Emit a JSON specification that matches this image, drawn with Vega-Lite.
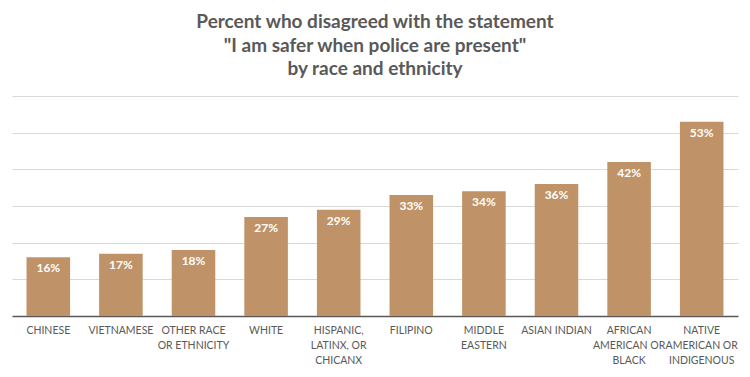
{
  "$schema": "https://vega.github.io/schema/vega-lite/v6.json",
  "width": 726,
  "height": 220,
  "padding": {"left": 12, "right": 12, "top": 13, "bottom": 2},
  "background": "white",
  "title": {
    "text": ["Percent who disagreed with the statement", "\"I am safer when police are present\"", "by race and ethnicity"],
    "font": "Lato",
    "fontSize": 19,
    "fontWeight": "bold",
    "color": "#595959",
    "lineHeight": 23.5,
    "anchor": "middle",
    "offset": 17
  },
  "data": {
    "values": [
      {"group": "CHINESE", "share": 0.16},
      {"group": "VIETNAMESE", "share": 0.17},
      {"group": "OTHER RACE|OR ETHNICITY", "share": 0.18},
      {"group": "WHITE", "share": 0.27},
      {"group": "HISPANIC,|LATINX, OR|CHICANX", "share": 0.29},
      {"group": "FILIPINO", "share": 0.33},
      {"group": "MIDDLE|EASTERN", "share": 0.34},
      {"group": "ASIAN INDIAN", "share": 0.36},
      {"group": "AFRICAN|AMERICAN OR|BLACK", "share": 0.42},
      {"group": "NATIVE|AMERICAN OR|INDIGENOUS", "share": 0.53}
    ]
  },
  "encoding": {
    "x": {
      "field": "group",
      "type": "nominal",
      "sort": null,
      "scale": {"paddingInner": 0.4, "paddingOuter": 0.2},
      "axis": {
        "title": null,
        "labelAngle": 0,
        "labelExpr": "split(datum.value, '|')",
        "labelFont": "Lato",
        "labelFontSize": 10.5,
        "labelColor": "#595959",
        "labelLineHeight": 15,
        "labelPadding": 9,
        "labelLimit": 120,
        "ticks": false,
        "domainColor": "#595959",
        "domainWidth": 1.5,
        "grid": false
      }
    },
    "y": {
      "field": "share",
      "type": "quantitative",
      "scale": {"domain": [0, 0.6], "nice": false},
      "axis": {
        "title": null,
        "labels": false,
        "ticks": false,
        "domain": false,
        "grid": true,
        "gridColor": "#d9d9d9",
        "gridWidth": 1,
        "values": [0.1, 0.2, 0.3, 0.4, 0.5, 0.6]
      }
    }
  },
  "layer": [
    {"mark": {"type": "bar", "color": "#BF9367"}},
    {
      "mark": {
        "type": "text",
        "baseline": "top",
        "dy": 6,
        "color": "white",
        "font": "Lato",
        "fontSize": 12,
        "fontWeight": "bold"
      },
      "encoding": {"text": {"field": "share", "type": "quantitative", "format": ".0%"}}
    }
  ],
  "config": {"view": {"stroke": null}}
}
